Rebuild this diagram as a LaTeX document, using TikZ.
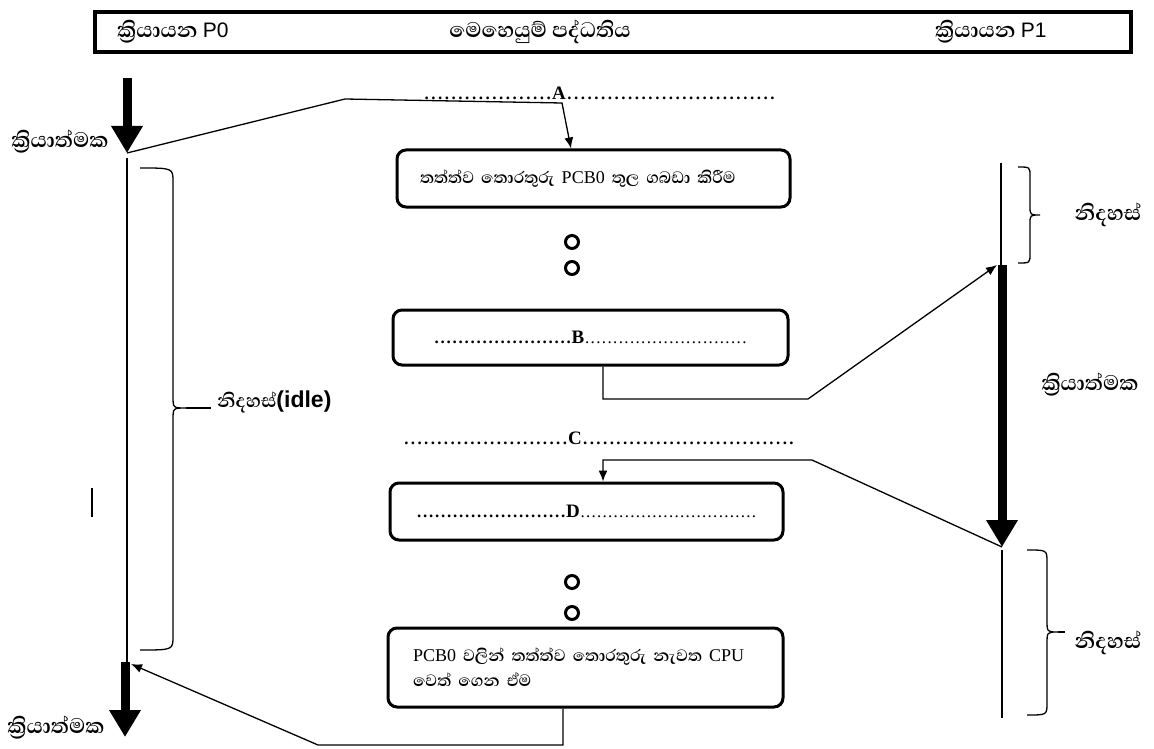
\documentclass[tikz,border=0pt]{standalone}
\usepackage{fontspec}
\setmainfont{Liberation Serif}
\newfontfamily\sinhala[Script=Sinhala]{Abhaya Libre SemiBold}
\newfontfamily\sanslat{Liberation Sans}
\usetikzlibrary{arrows.meta}
% a run of periods filling a given width with a given pitch
\newcommand\dotrun[2]{\makebox[#1]{\xleaders\hbox to #2{\hss.\hss}\hfill}}
\newcommand\kriyatmaka{ක්^^^^200dරියාත්මක}
\newcommand\kriyayana{ක්^^^^200dරියායන}
% Latin words inside Sinhala text
\newcommand\lat[1]{{\rmfamily\fontsize{18}{25}\selectfont #1}}
\begin{document}
\begin{tikzpicture}[x=1pt,y=-1pt,
  thinln/.style={line width=1.3pt},
  procbox/.style={draw,line width=3pt,rounded corners=9pt,inner ysep=0pt},
  bigarrow/.style={line width=9pt,-{Triangle[length=27pt,width=30pt]}},
  conn/.style={line width=1.3pt,-{Latex[length=11pt,width=9pt]}},
  hole/.style={circle,draw,line width=3pt,minimum size=13pt,inner sep=0pt},
  sinlbl/.style={font=\sinhala\fontsize{27}{30}\selectfont,inner sep=0pt},
  boxtxt/.style={font=\sinhala\fontsize{21}{25}\selectfont},
  dotlbl/.style={font=\bfseries\fontsize{17}{20}\selectfont,inner sep=0pt},
  bracestyle/.style={line width=1.3pt}
]
\useasboundingbox (0,0) rectangle (1154,749);

% title bar
\node[draw,line width=3.5pt,minimum width=1036pt,minimum height=40pt] (osbar) at (613,32) {};
\node[sinlbl,anchor=west] (p0title) at (117,32) {\kriyayana\ {\sanslat\fontsize{21}{25}\selectfont P0}};
\node[sinlbl] (ostitle) at (540,32) {මෙහෙයුම් පද්ධතිය};
\node[sinlbl,anchor=west] (p1title) at (935,32) {\kriyayana\ {\sanslat\fontsize{21}{25}\selectfont P1}};

% time line of process P0
\coordinate (l0) at (127,78);
\coordinate (l1) at (127,153);
\coordinate (l2) at (127,158);
\coordinate (l3) at (127,662);
\coordinate (l3b) at (125,662);
\coordinate (l4) at (125,737);
\coordinate (l3tip) at (131,664);
\draw[bigarrow] (l0) -- (l1);
\draw[thinln] (l2) -- (l3);
\draw[bigarrow] (l3b) -- (l4);
\node[sinlbl] (run0a) at (60,142) {\kriyatmaka};
\node[sinlbl] (run0b) at (56,728) {\kriyatmaka};
\draw[thinln] (92,488) -- (92,517);

% idle brace of P0
\draw[bracestyle] (140,168) .. controls (173,168) .. (173,182) -- (173,396)
  .. controls (173,408) .. (186,408) .. controls (173,408) .. (173,420)
  -- (173,636) .. controls (173,650) .. (140,650);
\coordinate (idletip) at (186,408);
\node[sinlbl,anchor=west,font=\sinhala\fontsize{24}{28}\selectfont] (idle0) at (217,402)
  {නිදහස්{\sanslat\bfseries\fontsize{23}{28}\selectfont(idle)}};
\draw[bracestyle] (idletip) -- ([xshift=-6pt]idle0.west |- idletip);

% time line of process P1
\coordinate (r0) at (1001,163);
\coordinate (r1) at (1001,265);
\coordinate (r2) at (1002,265);
\coordinate (r3) at (1002,547);
\coordinate (r4) at (1002,550);
\coordinate (r5) at (1002,718);
\draw[thinln] (r0) -- (r1);
\draw[bigarrow] (r2) -- (r3);
\draw[thinln] (r4) -- (r5);
\node[sinlbl] (run1) at (1090,385) {\kriyatmaka};

\draw[bracestyle] (1018,167) .. controls (1030,167) .. (1030,176) -- (1030,206)
  .. controls (1030,215) .. (1040,215) .. controls (1030,215) .. (1030,224)
  -- (1030,254) .. controls (1030,263) .. (1018,263);
\node[sinlbl] (idle1a) at (1108,215) {නිදහස්};

\draw[bracestyle] (1027,550) .. controls (1047,550) .. (1047,562) -- (1047,620)
  .. controls (1047,632) .. (1058,632) .. controls (1047,632) .. (1047,644)
  -- (1047,703) .. controls (1047,715) .. (1027,715);
\draw[bracestyle] (1058,632) -- (1065,632);
\node[sinlbl] (idle1b) at (1108,643) {නිදහස්};

% operating system steps
\node[dotlbl,anchor=west] (stepA) at (423,93) {\dotrun{129pt}{6.6pt}{\fontsize{19}{20}\selectfont A}\dotrun{210pt}{6.6pt}};
\node[procbox,boxtxt,text width=347pt,inner xsep=23pt,minimum height=57pt,align=left]
  (save) at (593.5,178.5) {තත්ත්ව තොරතුරු \lat{PCB0} තුල ගබඩා කිරීම};
\node[hole] (g1) at (572,242) {};
\node[hole] (g2) at (572,268) {};
\node[procbox,dotlbl,minimum width=395pt,minimum height=55pt] (bbox) at (590.5,337.5)
  {\dotrun{138pt}{6pt}{\fontsize{19}{20}\selectfont B}\mdseries\dotrun{163pt}{5.5pt}};
\node[dotlbl,anchor=west] (stepC) at (403,438) {\dotrun{165pt}{6.6pt}{\fontsize{19}{20}\selectfont C}\dotrun{213pt}{6.6pt}};
\node[procbox,dotlbl,minimum width=393pt,minimum height=57pt] (dbox) at (586.5,511.5)
  {\dotrun{150pt}{6pt}{\fontsize{19}{20}\selectfont D}\mdseries\dotrun{177pt}{5.5pt}};
\node[hole] (g3) at (572,582) {};
\node[hole] (g4) at (572,613) {};
\node[procbox,boxtxt,text width=345pt,inner xsep=25pt,minimum height=79pt,align=left]
  (restore) at (585.5,667.5)
  {\lat{PCB0} වලින් තත්ත්ව තොරතුරු නැවත \lat{CPU}\\ වෙත් ගෙන ඒම};

% connectors
\draw[conn] (l1) -- (345,99) -- (562,103) -- ([xshift=-22.5pt]save.north);
\draw[conn] ([xshift=12.5pt]bbox.south) -- (603,399) -- (808,399) -- ([xshift=-4pt]r1);
\draw[conn] (r3) -- (812,460) -- (603,460) -- ([xshift=16.5pt]dbox.north);
\draw[conn] ([xshift=-22.5pt]restore.south) -- (563,745) -- (318,745) -- (l3tip);
\end{tikzpicture}
\end{document}
